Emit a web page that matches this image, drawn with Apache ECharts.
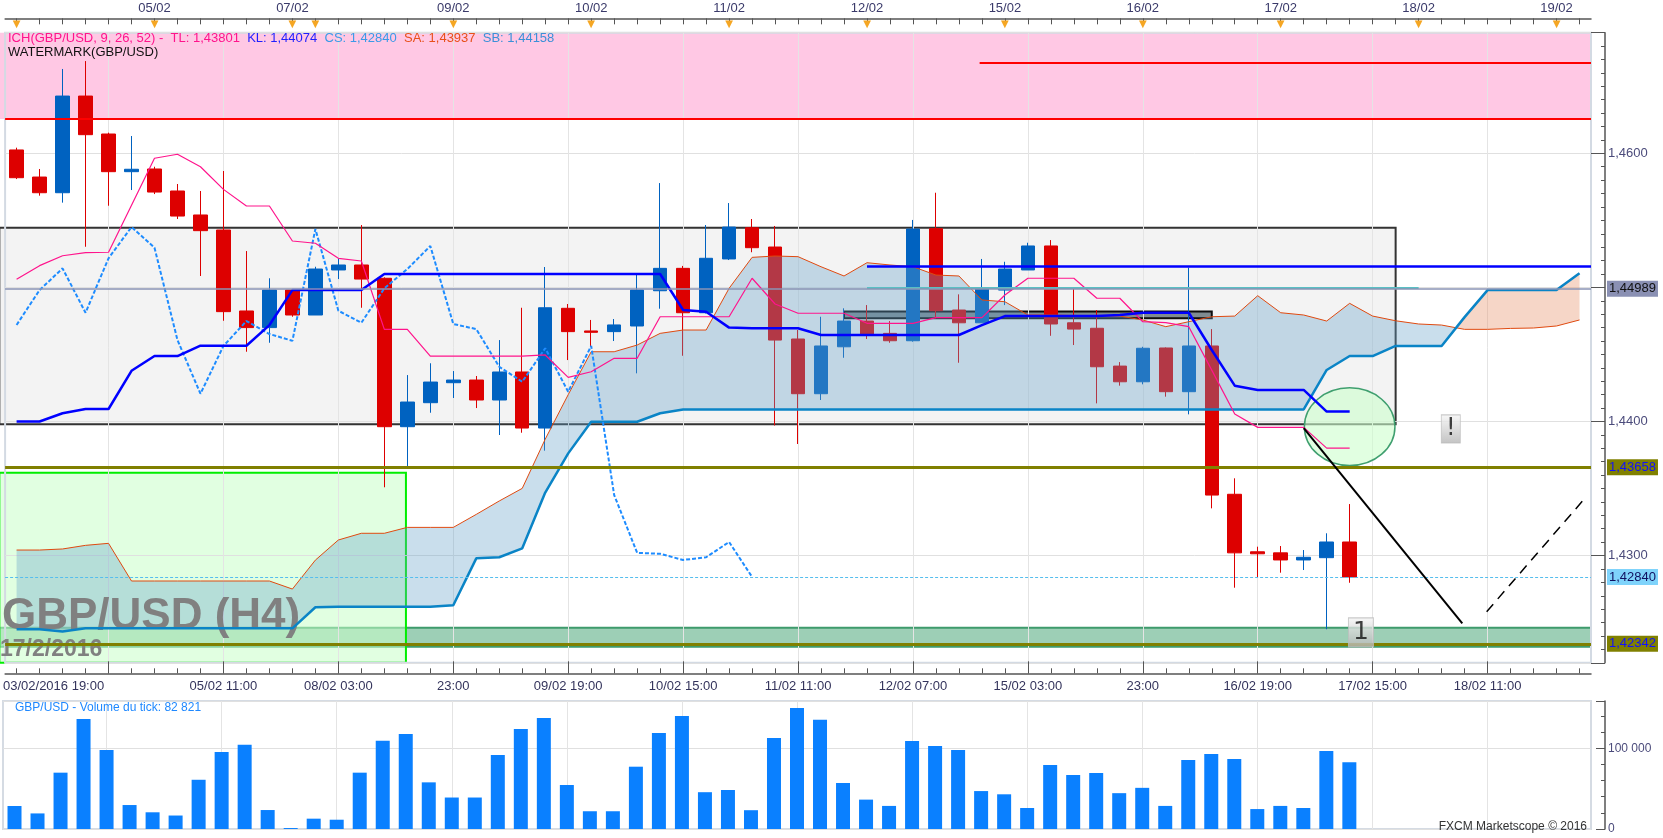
<!DOCTYPE html>
<html>
<head>
<meta charset="utf-8">
<title>GBP/USD H4</title>
<script src="https://cdn.jsdelivr.net/npm/echarts@6.0.0/dist/echarts.min.js"></script>
<style>
html,body{margin:0;padding:0;background:#ffffff;overflow:hidden;}
#chart{width:1663px;height:838px;}
</style>
</head>
<body>
<div id="chart"></div>
<script>
// ================= DATA =================
const categories = [
 '03/02 23:00','04/02 03:00','04/02 07:00','04/02 11:00','04/02 15:00','04/02 19:00','04/02 23:00','05/02 03:00','05/02 07:00','05/02 11:00',
 '05/02 15:00','05/02 19:00','07/02 19:00','07/02 23:00','08/02 03:00','08/02 07:00','08/02 11:00','08/02 15:00','08/02 19:00','08/02 23:00',
 '09/02 03:00','09/02 07:00','09/02 11:00','09/02 15:00','09/02 19:00','09/02 23:00','10/02 03:00','10/02 07:00','10/02 11:00','10/02 15:00',
 '10/02 19:00','10/02 23:00','11/02 03:00','11/02 07:00','11/02 11:00','11/02 15:00','11/02 19:00','11/02 23:00','12/02 03:00','12/02 07:00',
 '12/02 11:00','12/02 15:00','12/02 19:00','14/02 23:00','15/02 03:00','15/02 07:00','15/02 11:00','15/02 15:00','15/02 19:00','15/02 23:00',
 '16/02 03:00','16/02 07:00','16/02 11:00','16/02 15:00','16/02 19:00','16/02 23:00','17/02 03:00','17/02 07:00','17/02 11:00','17/02 15:00',
 '17/02 19:00','17/02 23:00','18/02 03:00','18/02 07:00','18/02 11:00','18/02 15:00','18/02 19:00','18/02 23:00','19/02 03:00'
];

const opens = [
 1.46025,1.45823,1.45706,1.46427,1.46144,1.45863,1.45883,1.45719,1.45540,1.45428,
 1.44824,1.44700,1.44980,1.44794,1.45130,1.45167,1.45068,1.43961,1.44140,1.44289,
 1.44309,1.44160,1.44369,1.43951,1.44844,1.44675,1.44670,1.44712,1.44975,1.45142,
 1.44811,1.45212,1.45445,1.45301,1.44615,1.44207,1.44557,1.44749,1.44657,1.44602,
 1.45438,1.44831,1.44736,1.44980,1.45130,1.45309,1.44736,1.44695,1.44413,1.44296,
 1.44548,1.44222,1.44563,1.43457,1.43028,1.43020,1.42967,1.42984,1.43101
];
const closes = [
 1.45818,1.45706,1.46427,1.46139,1.45863,1.45881,1.45711,1.45532,1.45423,1.44819,
 1.44700,1.44980,1.44794,1.45137,1.45167,1.45062,1.43961,1.44145,1.44294,1.44309,
 1.44160,1.44369,1.43951,1.44848,1.44670,1.44665,1.44720,1.44980,1.45142,1.44811,
 1.45217,1.45450,1.45296,1.44607,1.44207,1.44563,1.44749,1.44652,1.44602,1.45435,
 1.44826,1.44736,1.44993,1.45137,1.45309,1.44727,1.44689,1.44408,1.44296,1.44546,
 1.44222,1.44563,1.43451,1.43020,1.43013,1.42967,1.42987,1.43101,1.42840
];
const lows = [
 1.45808,1.45684,1.45632,1.45303,1.45609,1.45726,1.45696,1.45510,1.45085,1.44751,
 1.44520,1.44587,1.44781,1.44794,1.45062,1.44848,1.43509,1.43662,1.44065,1.44175,
 1.44100,1.43899,1.43916,1.43782,1.44458,1.44557,1.44600,1.44359,1.44841,1.44490,
 1.44805,1.45204,1.45262,1.43970,1.43832,1.44160,1.44475,1.44615,1.44587,1.44595,
 1.44769,1.44438,1.44736,1.44868,1.45130,1.44639,1.44570,1.44135,1.44267,1.44277,
 1.44185,1.44053,1.43352,1.42760,1.42834,1.42872,1.42892,1.42450,1.42797
];
const highs = [
 1.46042,1.45883,1.46629,1.46688,1.46154,1.46129,1.45900,1.45771,1.45719,1.45868,
 1.45271,1.45068,1.44985,1.45154,1.45217,1.45465,1.45075,1.44346,1.44434,1.44376,
 1.44339,1.44607,1.44848,1.45152,1.44876,1.44757,1.44764,1.45100,1.45778,1.45160,
 1.45465,1.45629,1.45510,1.45458,1.44682,1.44781,1.44844,1.44868,1.44749,1.45503,
 1.45706,1.44948,1.45212,1.45191,1.45333,1.45353,1.44993,1.44831,1.44443,1.44557,
 1.44552,1.45147,1.44689,1.43576,1.43066,1.43071,1.43041,1.43166,1.43384
];
const volumes = [
 28500,19300,69800,136300,97900,29700,20700,16700,61000,95400,
 104500,23500,1200,12800,11500,69800,109500,117700,57800,39000,
 39000,91700,123900,137500,54500,22000,22000,77200,119000,140000,
 45600,48300,23300,112800,150000,135400,57000,36400,28600,109000,
 102900,97900,47000,43000,26000,79300,66900,69400,44400,51000,
 28600,85500,92900,86700,24700,28600,26000,96700,82821
];
const tenkan = [
 1.45060,1.45162,1.45236,1.45259,1.45262,1.45612,1.45963,1.45993,1.45900,1.45731,
 1.45607,1.45607,1.45346,1.45329,1.45217,1.45197,1.44687,1.44687,1.44488,1.44488,
 1.44488,1.44488,1.44488,1.44496,1.44329,1.44371,1.44471,1.44471,1.44781,1.44781,
 1.44781,1.44781,1.45068,1.44876,1.44807,1.44807,1.44807,1.44732,1.44732,1.44732,
 1.44774,1.44774,1.44774,1.44943,1.45068,1.45068,1.45068,1.44919,1.44919,1.44744,
 1.44737,1.44707,1.44383,1.44055,1.43956,1.43956,1.43956,1.43801,1.43801
];
const kijun = [
 1.44000,1.44000,1.44061,1.44093,1.44093,1.44378,1.44488,1.44488,1.44565,1.44565,
 1.44565,1.44719,1.44980,1.44980,1.44980,1.44980,1.45100,1.45100,1.45100,1.45100,
 1.45100,1.45100,1.45100,1.45100,1.45100,1.45100,1.45100,1.45100,1.45100,1.44831,
 1.44819,1.44700,1.44695,1.44695,1.44695,1.44645,1.44645,1.44645,1.44645,1.44645,
 1.44645,1.44645,1.44719,1.44786,1.44786,1.44786,1.44786,1.44786,1.44794,1.44811,
 1.44811,1.44811,1.44533,1.44267,1.44235,1.44235,1.44235,1.44074,1.44074
];
const senkouA = [
 1.43041,1.43041,1.43049,1.43076,1.43091,1.42810,1.42810,1.42810,1.42810,1.42810,
 1.42810,1.42810,1.42750,1.42966,1.43116,1.43166,1.43166,1.43210,1.43210,1.43210,
 1.43307,1.43407,1.43501,1.43868,1.44200,1.44520,1.44520,1.44570,1.44657,1.44682,
 1.44682,1.44993,1.45224,1.45234,1.45229,1.45154,1.45085,1.45184,1.45167,1.45154,
 1.45092,1.45085,1.44906,1.44893,1.44794,1.44794,1.44790,1.44786,1.44786,1.44757,
 1.44707,1.44744,1.44781,1.44786,1.44938,1.44811,1.44794,1.44749,1.44881,1.44786,
 1.44751,1.44727,1.44719,1.44687,1.44687,1.44694,1.44697,1.44712,1.44757
];
const senkouB = [
 1.42450,1.42450,1.42434,1.42457,1.42457,1.42457,1.42457,1.42457,1.42457,1.42457,
 1.42457,1.42457,1.42457,1.42614,1.42618,1.42618,1.42618,1.42618,1.42618,1.42629,
 1.42979,1.42987,1.43054,1.43470,1.43762,1.43998,1.43998,1.43998,1.44061,1.44090,
 1.44090,1.44090,1.44090,1.44090,1.44090,1.44090,1.44090,1.44090,1.44090,1.44090,
 1.44090,1.44090,1.44090,1.44090,1.44090,1.44090,1.44090,1.44090,1.44090,1.44090,
 1.44090,1.44090,1.44090,1.44090,1.44090,1.44090,1.44090,1.44384,1.44488,1.44488,
 1.44563,1.44563,1.44563,1.44778,1.44980,1.44980,1.44980,1.44980,1.45105
];
const chikouShift = 26;   // chikou span = close plotted 26 bars back

// axis labels
const bottomLabelIdx  = [0, 9, 14, 19, 24, 29, 34, 39, 44, 49, 54, 59, 64];
const bottomLabelText = ['03/02/2016 19:00','05/02 11:00','08/02 03:00','23:00','09/02 19:00','10/02 15:00',
                         '11/02 11:00','12/02 07:00','15/02 03:00','23:00','16/02 19:00','17/02 15:00','18/02 11:00'];
const dayIdx  = [6, 12, 19, 25, 31, 37, 43, 49, 55, 61, 67];
const dayText = ['05/02','07/02','09/02','10/02','11/02','12/02','15/02','16/02','17/02','18/02','19/02'];
const dayMarkIdx = [0, 6, 12, 13, 19, 25, 31, 37, 43, 49, 55, 61, 67];

// legend texts
const legendLabels = ['ICH(GBP/USD, 9, 26, 52) -', 'TL: 1,43801', 'KL: 1,44074', 'CS: 1,42840', 'SA: 1,43937', 'SB: 1,44158'];
const legendLine2 = 'WATERMARK(GBP/USD)';
const volumeCaption = 'GBP/USD - Volume du tick: 82 821';

// drawn price levels
const pinkZoneLow = 1.46256;
const upperRed = 1.46676, upperRedFrom = 41.9;
const blueLevel = 1.45154, blueFrom = 37;
const tealLevel = 1.45000, tealFrom = 37, tealTo = 61;
const markPrice = 1.44989;
const support1 = 1.43658;
const support2 = 1.42342;

// zones [x0, y0, x1, y1]
const zoneRects = [
 [-0.75, 1.45445, 60, 1.43980],
 [-0.75, 1.46900, 68.5, pinkZoneLow],
 [-0.75, 1.42461, 68.5, 1.42320],
 [-0.75, 1.43618, 16.94, 1.42200],
 [36, 1.44820, 52, 1.44770]
];
const trendDown = [[56, 1.43950], [62.9, 1.42494]];
const trendUp   = [[63.96, 1.42581], [68.3, 1.43440]];
const circleCenter = [58, 1.43961];
const circleRadius = [1.97, 0.0029];
const noteX = [62.4, 58.49];
const noteY = [1.43944, 1.42427];
const noteText = ['!', '1'];

// ================= CHART =================
const FONT = '"Liberation Sans", Arial, sans-serif';
const fmtPrice = (v, d) => v.toFixed(d).replace('.', ',');
const candleData = opens.map((o, i) => [o, closes[i], lows[i], highs[i]]);
const chikou = closes.slice(chikouShift);
const lastClose = closes[closes.length - 1];

const zoneStyles = [
 {fill: '#F3F3F3', stroke: '#333333', lw: 2},
 {fill: '#FFC8E4', stroke: null, lw: 0},
 {fill: 'rgba(60,160,110,0.5)', stroke: '#3E9B6C', lw: 2},
 {fill: 'rgba(200,255,200,0.55)', stroke: '#00EE00', lw: 2},
 {fill: '#7F8B90', stroke: '#0d0d0d', lw: 2}
];

function renderZones(params, api) {
  return {
    type: 'group',
    children: zoneRects.map((r, k) => {
      const p0 = api.coord([r[0], r[1]]);
      const p1 = api.coord([r[2], r[3]]);
      const st = zoneStyles[k];
      return {
        type: 'rect',
        shape: {x: Math.min(p0[0], p1[0]), y: Math.min(p0[1], p1[1]),
                width: Math.abs(p1[0] - p0[0]), height: Math.abs(p1[1] - p0[1])},
        style: {fill: st.fill, stroke: st.stroke, lineWidth: st.lw}
      };
    })
  };
}

function renderCloud(params, api) {
  const n = senkouA.length;
  const BLUE = 'rgba(100,160,200,0.35)', SAL = 'rgba(230,140,100,0.36)';
  const polys = [];
  let sign = senkouA[0] >= senkouB[0] ? 1 : -1;
  let top = [api.coord([0, senkouA[0]])], bot = [api.coord([0, senkouB[0]])];
  for (let i = 0; i < n - 1; i++) {
    const d0 = senkouA[i] - senkouB[i], d1 = senkouA[i + 1] - senkouB[i + 1];
    const pa1 = api.coord([i + 1, senkouA[i + 1]]), pb1 = api.coord([i + 1, senkouB[i + 1]]);
    if (d0 * d1 < 0) {
      const pa0 = api.coord([i, senkouA[i]]);
      const t = d0 / (d0 - d1);
      const cr = [pa0[0] + t * (pa1[0] - pa0[0]), pa0[1] + t * (pa1[1] - pa0[1])];
      top.push(cr);
      polys.push({sign: sign, pts: top.concat(bot.slice().reverse())});
      sign = -sign; top = [cr]; bot = [cr];
    }
    top.push(pa1); bot.push(pb1);
  }
  polys.push({sign: sign, pts: top.concat(bot.slice().reverse())});
  return {type: 'group', children: polys.map(p => ({
    type: 'polygon', shape: {points: p.pts}, style: {fill: p.sign > 0 ? BLUE : SAL}
  }))};
}

function renderEllipse(params, api) {
  const c = api.coord([api.value(0), api.value(1)]);
  const s = api.size([api.value(2), api.value(3)]);
  return {type: 'ellipse', shape: {cx: c[0], cy: c[1], rx: s[0], ry: s[1]},
          style: {fill: 'rgba(205,255,205,0.6)', stroke: '#3F9F6F', lineWidth: 1.5}};
}

function tag(value, bg, fg) {
  return {show: true, position: 'end', distance: 16, formatter: fmtPrice(value, 5),
          color: fg, backgroundColor: bg, padding: [1, 2, 1, 2], fontSize: 13,
          lineHeight: 14, fontFamily: FONT};
}

const rich = {};
const legendColors = ['#FF148C', '#FF148C', '#1F1FFF', '#3A9AE8', '#E8501A', '#3A90D8'];
legendLabels.forEach((t, k) => { rich['r' + k] = {color: legendColors[k], fontSize: 13, fontFamily: FONT, lineHeight: 13.5}; });
rich.w = {color: '#111111', fontSize: 13, fontFamily: FONT, lineHeight: 13.5};
const legendText = legendLabels.map((t, k) => '{r' + k + '|' + t + '}').join('  ') + '\n{w|' + legendLine2 + '}';

const AX = '#555555';
const catAxisBase = {type: 'category', gridIndex: 0, data: categories, boundaryGap: true, z: 1};

const option = {
  animation: false,
  backgroundColor: '#ffffff',
  textStyle: {fontFamily: FONT},
  title: [
    {left: 8, top: 32, padding: 0, text: legendText,
     textStyle: {fontSize: 13, fontWeight: 'normal', fontFamily: FONT, color: '#FF148C', lineHeight: 13.5, rich: rich}},
    {left: 15, top: 702, padding: 0, text: volumeCaption,
     textStyle: {fontSize: 12, fontWeight: 'normal', color: '#1E88FF', fontFamily: FONT}},
    {right: 76, top: 821, padding: 0, text: 'FXCM Marketscope © 2016',
     textStyle: {fontSize: 12, fontWeight: 'normal', color: '#333333', fontFamily: FONT}}
  ],
  graphic: [
    {type: 'text', left: 2, top: 595, z: 3.2, silent: true,
     style: {text: 'GBP/USD (H4)', font: 'bold 44px "Liberation Sans", Arial', fill: '#808080'}},
    {type: 'text', left: 0, top: 638, z: 3.2, silent: true,
     style: {text: '17/2/2016', font: 'bold 23px "Liberation Sans", Arial', fill: '#808080'}}
  ],
  grid: [
    {left: 3, right: 72, top: 32.64, bottom: 175.2, show: true, borderColor: '#D3DAE3', borderWidth: 2, backgroundColor: 'transparent', z: 1},
    {left: 3, right: 72, top: 701, bottom: 9, show: true, borderColor: '#D5DBE3', borderWidth: 2, backgroundColor: 'transparent', z: 1}
  ],
  xAxis: [
    Object.assign({}, catAxisBase, {
      position: 'bottom', offset: 10.5,
      axisLine: {show: true, onZero: false, lineStyle: {color: AX, width: 1.5}},
      axisTick: {show: true, inside: true, length: 12, alignWithLabel: true, interval: (i) => i % 5 === 4, lineStyle: {color: AX}},
      axisLabel: {show: true, interval: (i) => bottomLabelIdx.indexOf(i) >= 0,
        formatter: (v, idx) => { const k = bottomLabelIdx.indexOf(idx); if (k < 0) return ''; return k === 0 ? '{first|' + bottomLabelText[0] + '}' : bottomLabelText[k]; },
        color: '#34345C', fontSize: 13, fontFamily: FONT, margin: 7,
        rich: {first: {padding: [0, 0, 0, 74], fontSize: 13, color: '#34345C', fontFamily: FONT}}},
      splitLine: {show: true, interval: (i) => i % 5 === 4, alignWithLabel: true, lineStyle: {color: '#E4E4E4', width: 1}}
    }),
    Object.assign({}, catAxisBase, {
      position: 'bottom', offset: 10.5,
      axisLine: {show: false, onZero: false},
      axisTick: {show: true, inside: true, length: 5, alignWithLabel: true, interval: 0, lineStyle: {color: AX}},
      axisLabel: {show: false}, splitLine: {show: false}
    }),
    Object.assign({}, catAxisBase, {
      position: 'top', offset: 14.3,
      axisLine: {show: true, onZero: false, lineStyle: {color: AX, width: 1.5}},
      axisTick: {show: true, inside: true, length: 6, alignWithLabel: true, interval: 0, lineStyle: {color: AX}},
      axisLabel: {show: true, interval: (i) => dayIdx.indexOf(i) >= 0,
        formatter: (v, idx) => { const k = dayIdx.indexOf(idx); return k < 0 ? '' : dayText[k]; },
        color: '#3A3A6A', fontSize: 13, fontFamily: FONT, margin: 3},
      splitLine: {show: false}
    }),
    Object.assign({}, catAxisBase, {
      position: 'top', offset: 14.3,
      axisLine: {show: false, onZero: false}, axisTick: {show: false},
      axisLabel: {show: true, inside: true, margin: 1, interval: (i) => dayMarkIdx.indexOf(i) >= 0,
        formatter: () => '▼', color: '#F5A623', fontSize: 10, fontFamily: '"DejaVu Sans", sans-serif'},
      splitLine: {show: false}
    }),
    {type: 'value', gridIndex: 0, min: -0.5, max: 68.5, show: false, axisLine: {onZero: false}},
    {type: 'category', gridIndex: 1, data: categories, boundaryGap: true, z: 1,
     axisLine: {show: false, onZero: false}, axisTick: {show: false}, axisLabel: {show: false},
     splitLine: {show: true, interval: (i) => i % 5 === 4, alignWithLabel: true, lineStyle: {color: '#E4E4E4', width: 1}}}
  ],
  yAxis: [
    {type: 'value', gridIndex: 0, min: 1.422, max: 1.469, splitNumber: 5, position: 'right', offset: 14, z: 1,
     axisLine: {show: true, onZero: false, lineStyle: {color: AX, width: 1.5}},
     axisTick: {show: true, inside: true, length: 14, lineStyle: {color: AX}},
     axisLabel: {show: true, margin: 3, color: '#4B4B7B', fontSize: 13, fontFamily: FONT,
       formatter: (v) => { const c = Math.round(v * 100); if (Math.abs(v * 100 - c) > 1e-6 || c === 145) return ''; return fmtPrice(v, 4); }},
     splitLine: {show: true, lineStyle: {color: '#E0E0E0', width: 1}}},
    {type: 'value', gridIndex: 0, min: 1.422, max: 1.469, interval: 0.001, position: 'right', offset: 14, z: 1,
     axisLine: {show: false, onZero: false},
     axisTick: {show: true, inside: true, length: 4, lineStyle: {color: AX}},
     axisLabel: {show: false}, splitLine: {show: false}},
    {type: 'value', gridIndex: 1, min: 0, max: 158600, interval: 100000, position: 'right', offset: 14, z: 1,
     axisLine: {show: true, onZero: false, lineStyle: {color: AX, width: 1.5}},
     axisTick: {show: true, inside: true, length: 9, lineStyle: {color: AX}},
     minorTick: {show: true, splitNumber: 5, length: 4, lineStyle: {color: AX}},
     axisLabel: {show: true, margin: 3, color: '#4B4B7B', fontSize: 12, fontFamily: FONT,
       formatter: (v) => v === 0 ? '0' : (v === 100000 ? '100 000' : '')},
     splitLine: {show: true, lineStyle: {color: '#E0E0E0', width: 1}}}
  ],
  series: [
    {name: 'zones', type: 'custom', xAxisIndex: 4, yAxisIndex: 0, z: 0, silent: true,
     data: [[0, 1.44]], renderItem: renderZones},
    {name: 'GBP/USD', type: 'candlestick', xAxisIndex: 0, yAxisIndex: 0, z: 2, barWidth: 14,
     data: candleData,
     itemStyle: {color: '#0062C0', color0: '#DD0000', borderColor: '#0062C0', borderColor0: '#DD0000', borderWidth: 1}},
    {name: 'cloud', type: 'custom', xAxisIndex: 0, yAxisIndex: 0, z: 3, silent: true,
     data: [[0, senkouA[0]]], renderItem: renderCloud},
    {name: 'circle', type: 'custom', xAxisIndex: 4, yAxisIndex: 0, z: 3.5, silent: true,
     data: [[circleCenter[0], circleCenter[1], circleRadius[0], circleRadius[1]]], renderItem: renderEllipse},
    {name: 'SA', type: 'line', xAxisIndex: 0, yAxisIndex: 0, z: 4, data: senkouA, symbol: 'none', silent: true,
     lineStyle: {color: '#E04A10', width: 1}},
    {name: 'SB', type: 'line', xAxisIndex: 0, yAxisIndex: 0, z: 4, data: senkouB, symbol: 'none', silent: true,
     lineStyle: {color: '#0A84C6', width: 2.5}},
    {name: 'CS', type: 'line', xAxisIndex: 0, yAxisIndex: 0, z: 4, data: chikou, symbol: 'none', silent: true,
     lineStyle: {color: '#1E8CFF', width: 2, type: [4, 2]}},
    {name: 'TL', type: 'line', xAxisIndex: 0, yAxisIndex: 0, z: 4, data: tenkan, symbol: 'none', silent: true,
     lineStyle: {color: '#FF148C', width: 1.2}},
    {name: 'KL', type: 'line', xAxisIndex: 0, yAxisIndex: 0, z: 4, data: kijun, symbol: 'none', silent: true,
     lineStyle: {color: '#0000FF', width: 2.5}},
    {name: 'trendDown', type: 'line', xAxisIndex: 4, yAxisIndex: 0, z: 5, data: trendDown, symbol: 'none', silent: true,
     lineStyle: {color: '#000000', width: 2}},
    {name: 'trendUp', type: 'line', xAxisIndex: 4, yAxisIndex: 0, z: 5, data: trendUp, symbol: 'none', silent: true,
     lineStyle: {color: '#000000', width: 1.5, type: [10, 7]}},
    {name: 'levels', type: 'line', xAxisIndex: 4, yAxisIndex: 0, data: [], silent: true,
     markLine: {silent: true, symbol: ['none', 'none'], animation: false, precision: 6, label: {show: false},
       data: [
         {yAxis: pinkZoneLow, lineStyle: {color: '#FF0000', width: 2, type: 'solid'}, label: {show: false}},
         [{coord: [upperRedFrom, upperRed], lineStyle: {color: '#FF0000', width: 2, type: 'solid'}, label: {show: false}}, {coord: [68.5, upperRed]}],
         [{coord: [blueFrom, blueLevel], lineStyle: {color: '#0000FF', width: 2.5, type: 'solid'}, label: {show: false}}, {coord: [68.5, blueLevel]}],
         [{coord: [tealFrom, tealLevel], lineStyle: {color: '#5ABFC3', width: 2, type: 'solid'}, label: {show: false}}, {coord: [tealTo, tealLevel]}],
         {yAxis: markPrice, lineStyle: {color: '#8A93B5', width: 1.5, type: 'solid'}, label: tag(markPrice, '#8A90B3', '#111111')},
         {yAxis: support1, lineStyle: {color: '#808000', width: 3, type: 'solid'}, label: tag(support1, '#808000', '#1010FF')},
         {yAxis: support2, lineStyle: {color: '#808000', width: 3, type: 'solid'}, label: tag(support2, '#808000', '#1010FF')},
         {yAxis: lastClose, lineStyle: {color: '#55BEEE', width: 1, type: [3, 2]}, label: tag(lastClose, '#7FD3FB', '#101060')}
       ]}},
    {name: 'notes', type: 'scatter', xAxisIndex: 4, yAxisIndex: 0, z: 6, symbol: 'rect', silent: true,
     data: noteText.map((t, k) => ({value: [noteX[k], noteY[k]], symbolSize: k === 0 ? [19, 28] : [25, 29],
       label: {show: true, formatter: t, fontSize: k === 0 ? 24 : 25}})),
     itemStyle: {color: {type: 'linear', x: 0, y: 0, x2: 0, y2: 1,
                 colorStops: [{offset: 0, color: '#F6F6F6'}, {offset: 1, color: '#B4B4B4'}]},
                 borderColor: '#BDBDBD', borderWidth: 1},
     label: {show: true, position: 'inside', color: '#111111', fontFamily: '"DejaVu Sans", sans-serif'}},
    {name: 'Volume', type: 'bar', xAxisIndex: 5, yAxisIndex: 2, z: 2, barWidth: 14, data: volumes,
     itemStyle: {color: '#0A80FF'}, silent: true}
  ]
};

const chart = echarts.init(document.getElementById('chart'), null, {renderer: 'canvas', width: 1663, height: 838});
chart.setOption(option);
</script>
</body>
</html>
